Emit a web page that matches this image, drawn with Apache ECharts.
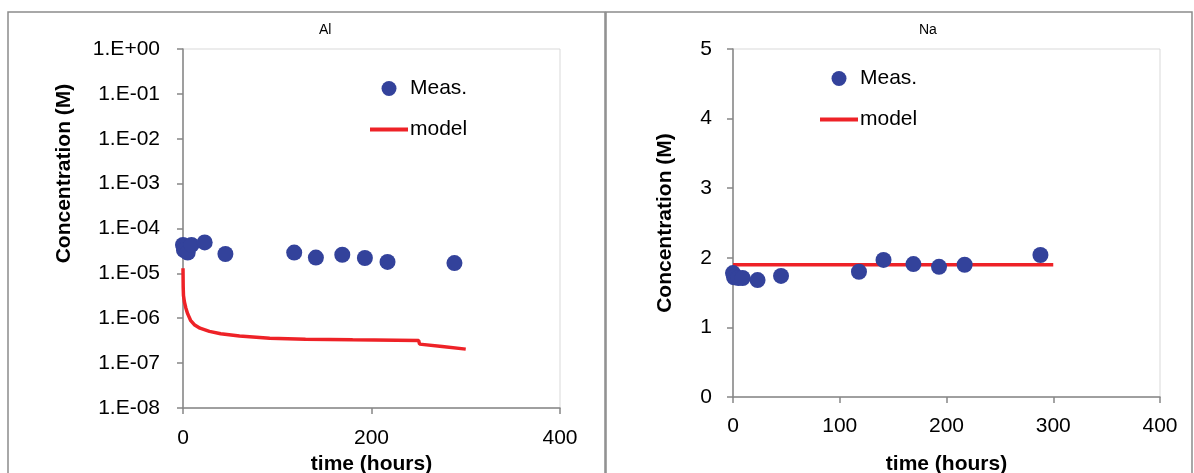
<!DOCTYPE html>
<html lang="en">

<head>
    <meta charset="UTF-8">
    <title>Al / Na concentration</title>
    <style>
        html, body { margin: 0; padding: 0; background: #fff; }
        #chart { width: 1194px; height: 473px; }
    </style>
</head>

<body>
    <div id='chart'></div>

    <script src="https://cdn.jsdelivr.net/npm/echarts@6/dist/echarts.min.js"></script>
    <script>
        // measured points (same sampling times for both panels)
        const measHours = [0, 1, 5, 9, 23, 45, 118, 141, 169, 193, 217, 288]
        const alMeas = [4.3e-5, 3.3e-5, 2.9e-5, 4.3e-5, 4.9e-5, 2.7e-5, 2.9e-5, 2.25e-5, 2.6e-5, 2.2e-5, 1.8e-5, 1.7e-5]
        const naMeas = [1.78, 1.72, 1.71, 1.71, 1.68, 1.74, 1.80, 1.97, 1.91, 1.87, 1.90, 2.04]

        // model curves
        const alModelHours = [0, 0.2, 0.5, 1.5, 3, 5, 8, 12, 18, 28, 40, 60, 92, 130, 180, 250, 251, 275, 300]
        const alModel = [1.3e-5, 5e-6, 3.2e-6, 2.3e-6, 1.7e-6, 1.25e-6, 9e-7, 7.2e-7, 6e-7, 5.1e-7, 4.5e-7, 4e-7, 3.6e-7, 3.4e-7, 3.3e-7, 3.2e-7, 2.65e-7, 2.35e-7, 2.05e-7]
        const naModelHours = [0, 300]
        const naModel = [1.9, 1.9]

        const zip = (xs, ys) => xs.map((x, i) => [x, ys[i]])

        const FONT = 'Liberation Sans'
        const axisGray = '#868686'
        const measColor = '#33429b'
        const modelColor = '#ee2227'

        function sciLabel(v) {
            const e = Math.round(Math.log10(v))
            return '1.E' + (e < 0 ? '-' : '+') + String(Math.abs(e)).padStart(2, '0')
        }

        function xAxisOf(grid, interval, labelMargin, nameGap) {
            return {
                gridIndex: grid,
                type: 'value',
                min: 0,
                max: 400,
                interval: interval,
                axisLine: { show: true, onZero: false, lineStyle: { color: axisGray, width: 1.5 } },
                axisTick: { show: true, length: 6, lineStyle: { color: axisGray, width: 1.5 } },
                splitLine: { show: false },
                axisLabel: { margin: labelMargin, fontSize: 21, color: '#000', fontFamily: FONT },
                name: 'time (hours)',
                nameLocation: 'middle',
                nameGap: nameGap,
                nameTextStyle: { fontSize: 21, fontWeight: 'bold', color: '#000', fontFamily: FONT }
            }
        }

        // legend: dot for Meas., plain thick line for model
        const legendItems = [
            { name: 'Meas.', icon: 'circle' },
            { name: 'model', icon: 'path://M0,0h38v4h-38z' }
        ]

        const chart = echarts.init(document.querySelector('#chart'))
        const option = {
            animation: false,
            title: [
                { text: 'Al', left: 319, top: 23, padding: 0, textStyle: { fontSize: 14, fontWeight: 'normal', color: '#000', fontFamily: FONT } },
                { text: 'Na', left: 919, top: 23, padding: 0, textStyle: { fontSize: 14, fontWeight: 'normal', color: '#000', fontFamily: FONT } }
            ],
            graphic: [
                { type: 'rect', shape: { x: 8, y: 12, width: 597, height: 480 }, style: { fill: 'none', stroke: '#8c8c8c', lineWidth: 1.5 }, silent: true },
                { type: 'rect', shape: { x: 606, y: 12, width: 586, height: 480 }, style: { fill: 'none', stroke: '#8c8c8c', lineWidth: 1.5 }, silent: true }
            ],
            legend: [
                {
                    data: legendItems, orient: 'vertical', left: 370, top: 78,
                    itemWidth: 38, itemHeight: 15, itemGap: 20, padding: 0, symbolKeepAspect: true,
                    textStyle: { fontSize: 21, color: '#000', fontFamily: FONT, padding: [0, 0, 0, -3] }
                },
                {
                    data: legendItems, orient: 'vertical', left: 820, top: 68,
                    itemWidth: 38, itemHeight: 15, itemGap: 20, padding: 0, symbolKeepAspect: true,
                    textStyle: { fontSize: 21, color: '#000', fontFamily: FONT, padding: [0, 0, 0, -3] }
                }
            ],
            grid: [
                { left: 183, right: 634, top: 49, bottom: 65, outerBoundsMode: 'none', show: true, borderColor: '#d9d9d9', borderWidth: 1 },
                { left: 733, right: 34, top: 49, bottom: 76, outerBoundsMode: 'none', show: true, borderColor: '#d9d9d9', borderWidth: 1 }
            ],
            xAxis: [
                xAxisOf(0, 200, 20, 46),
                xAxisOf(1, 100, 19, 57)
            ],
            yAxis: [
                {
                    gridIndex: 0,
                    type: 'log',
                    logBase: 10,
                    min: 1e-8,
                    max: 1,
                    interval: 1,
                    axisLine: { show: true, lineStyle: { color: axisGray, width: 1.5 } },
                    axisTick: { show: true, length: 6, lineStyle: { color: axisGray, width: 1.5 } },
                    splitLine: { show: false },
                    minorTick: { show: false },
                    axisLabel: { margin: 23, fontSize: 21, color: '#000', fontFamily: FONT, formatter: sciLabel },
                    name: 'Concentration (M)',
                    nameLocation: 'middle',
                    nameGap: 108,
                    nameTextStyle: { fontSize: 21, fontWeight: 'bold', color: '#000', fontFamily: FONT, padding: [0, 0, 0, 110] }
                },
                {
                    gridIndex: 1,
                    type: 'value',
                    min: 0,
                    max: 5,
                    interval: 1,
                    axisLine: { show: true, lineStyle: { color: axisGray, width: 1.5 } },
                    axisTick: { show: true, length: 6, lineStyle: { color: axisGray, width: 1.5 } },
                    splitLine: { show: false },
                    axisLabel: { margin: 21, fontSize: 21, color: '#000', fontFamily: FONT },
                    name: 'Concentration (M)',
                    nameLocation: 'middle',
                    nameGap: 57,
                    nameTextStyle: { fontSize: 21, fontWeight: 'bold', color: '#000', fontFamily: FONT }
                }
            ],
            series: [
                {
                    name: 'model', type: 'line', xAxisIndex: 0, yAxisIndex: 0,
                    data: zip(alModelHours, alModel), showSymbol: false, symbol: 'none',
                    lineStyle: { color: modelColor, width: 3.5 }, itemStyle: { color: modelColor }, z: 2
                },
                {
                    name: 'Meas.', type: 'scatter', xAxisIndex: 0, yAxisIndex: 0,
                    data: zip(measHours, alMeas), symbolSize: 16,
                    itemStyle: { color: measColor, opacity: 1 }, z: 3
                },
                {
                    name: 'model', type: 'line', xAxisIndex: 1, yAxisIndex: 1,
                    data: zip(naModelHours, naModel), showSymbol: false, symbol: 'none',
                    lineStyle: { color: modelColor, width: 3.5 }, itemStyle: { color: modelColor }, z: 2
                },
                {
                    name: 'Meas.', type: 'scatter', xAxisIndex: 1, yAxisIndex: 1,
                    data: zip(measHours, naMeas), symbolSize: 16,
                    itemStyle: { color: measColor, opacity: 1 }, z: 3
                }
            ]
        }

        chart.setOption(option)
    </script>
</body>

</html>
